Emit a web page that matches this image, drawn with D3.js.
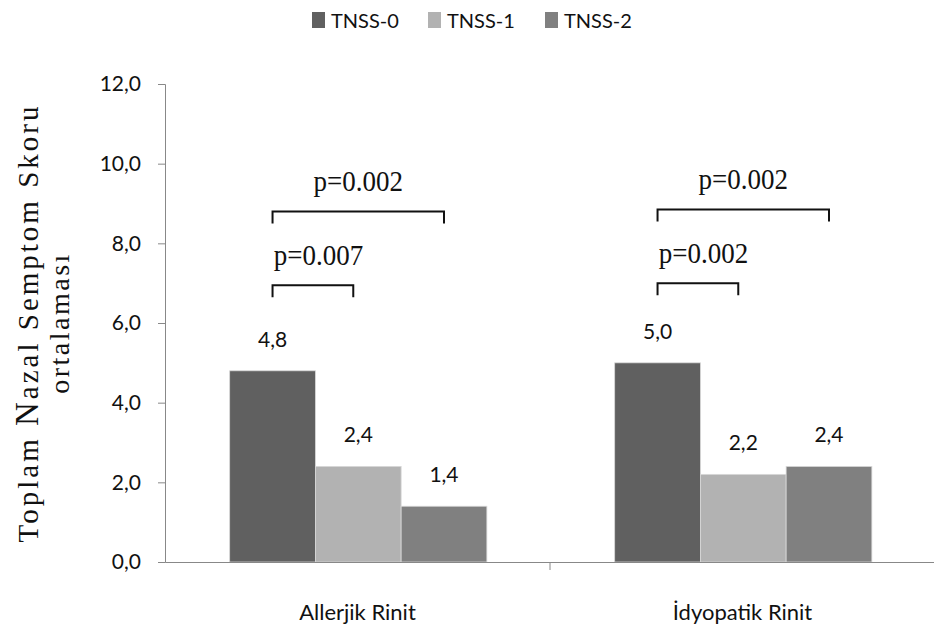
<!DOCTYPE html>
<html><head><meta charset="utf-8">
<script src="https://cdn.jsdelivr.net/npm/d3@7"></script>
<style>body{margin:0;background:#fff}svg{display:block}</style>
</head><body>
<svg id="c" width="934" height="630"></svg>
<script>
const categories = ["Allerjik Rinit", "İdyopatik Rinit"];
const seriesNames = ["TNSS-0", "TNSS-1", "TNSS-2"];
const tnss0 = [4.8, 5.0];
const tnss1 = [2.4, 2.2];
const tnss2 = [1.4, 2.4];
const yTicks = [0, 2, 4, 6, 8, 10, 12];
const pValues = [
  {cat: 0, from: 0, to: 2, level: 8.8, text: "p=0.002"},
  {cat: 0, from: 0, to: 1, level: 6.95, text: "p=0.007"},
  {cat: 1, from: 0, to: 2, level: 8.85, text: "p=0.002"},
  {cat: 1, from: 0, to: 1, level: 7.0, text: "p=0.002"}
];

(function () {
const colors = ["#606060", "#b2b2b2", "#808080"];
const values = [tnss0, tnss1, tnss2];
const fmt = v => d3.format(".1f")(v).replace(".", ",");

const svg = d3.select("#c");
const mLeft = 165, mRight = 935, mTop = 84, mBottom = 562;
const y = d3.scaleLinear().domain([0, 12]).range([mBottom, mTop]);
const x0 = d3.scaleBand().domain(categories).range([mLeft, mRight]);
const bw = x0.bandwidth();
const x1 = d3.scaleBand().domain(seriesNames).range([bw * 0.168, bw * 0.836]);
const sansFont = "Lato, 'Open Sans', sans-serif";

// y axis
const yAxis = d3.axisLeft(y).tickValues(yTicks).tickFormat(fmt).tickSize(7).tickPadding(17);
const ga = svg.append("g").attr("transform", `translate(${mLeft},0)`).call(yAxis);
ga.select(".domain").attr("stroke", "#888");
ga.selectAll(".tick line").attr("stroke", "#888");
ga.selectAll(".tick text").attr("font-family", sansFont).attr("font-size", 21).attr("fill", "#111");

// bars
categories.forEach((c, ci) => {
  seriesNames.forEach((s, si) => {
    const v = values[si][ci];
    svg.append("rect")
      .attr("x", x0(c) + x1(s))
      .attr("y", y(v))
      .attr("width", x1.bandwidth())
      .attr("height", y(0) - y(v))
      .attr("fill", colors[si])
      .attr("stroke", "#d8d8d8").attr("stroke-width", 0.8);
    svg.append("text")
      .attr("x", x0(c) + x1(s) + x1.bandwidth() / 2)
      .attr("y", y(v) - 24)
      .attr("text-anchor", "middle")
      .attr("font-family", sansFont).attr("font-size", 21).attr("fill", "#111")
      .text(fmt(v));
  });
});

// x axis
const xAxis = d3.axisBottom(x0).tickSize(0).tickPadding(0);
const gx = svg.append("g").attr("transform", `translate(0,${mBottom})`).call(xAxis);
gx.select(".domain").attr("stroke", "#888");
gx.selectAll(".tick text").remove();
svg.append("line").attr("x1", x0(categories[1])).attr("x2", x0(categories[1]))
  .attr("y1", mBottom).attr("y2", mBottom + 8).attr("stroke", "#888");
categories.forEach(c => {
  svg.append("text").attr("x", x0(c) + bw / 2).attr("y", mBottom + 58)
    .attr("text-anchor", "middle").attr("font-family", sansFont).attr("font-size", 22)
    .attr("fill", "#111").text(c);
});

// p-value brackets
pValues.forEach(p => {
  const c = categories[p.cat];
  const xa = x0(c) + x1(seriesNames[p.from]) + x1.bandwidth() / 2;
  const xb = x0(c) + x1(seriesNames[p.to]) + x1.bandwidth() / 2 - (p.to === 1 ? 5 : 0);
  const yy = y(p.level);
  svg.append("path")
    .attr("d", `M${xa},${yy + 12}V${yy}H${xb}V${yy + 12}`)
    .attr("fill", "none").attr("stroke", "#111").attr("stroke-width", 2);
  const tx = p.to === 2 ? (xa + xb) / 2 : xa + 46;
  const ty = yy - 20;
  svg.append("text").attr("x", tx).attr("y", ty)
    .attr("text-anchor", "middle")
    .attr("font-family", "'Liberation Serif', 'DejaVu Serif', serif")
    .attr("font-size", 27).attr("fill", "#111")
    .attr("transform", `translate(${tx},${ty}) scale(1,1.1) translate(${-tx},${-ty})`)
    .text(p.text);
});

// y title
const yt = svg.append("text")
  .attr("transform", `translate(38,${(mTop + mBottom) / 2}) rotate(-90)`)
  .attr("text-anchor", "middle")
  .attr("font-family", "'Liberation Serif', serif").attr("font-size", 29)
  .attr("letter-spacing", 3).attr("fill", "#111");
yt.append("tspan").text("Toplam ");
yt.append("tspan").attr("font-size", 33).text("N");
yt.append("tspan").text("azal Semptom Skoru");
svg.append("text")
  .attr("transform", `translate(69,${(mTop + mBottom) / 2}) rotate(-90)`)
  .attr("text-anchor", "middle")
  .attr("font-family", "'Liberation Serif', serif").attr("font-size", 28)
  .attr("letter-spacing", 2.5).attr("fill", "#111")
  .text("ortalaması");

// legend
const legX = [312, 428, 545];
seriesNames.forEach((s, i) => {
  svg.append("rect").attr("x", legX[i]).attr("y", 12).attr("width", 13).attr("height", 16).attr("fill", colors[i]);
  svg.append("text").attr("x", legX[i] + 19).attr("y", 28)
    .attr("font-family", sansFont).attr("font-size", 20).attr("fill", "#111").text(s);
});
})();
</script>
</body></html>
